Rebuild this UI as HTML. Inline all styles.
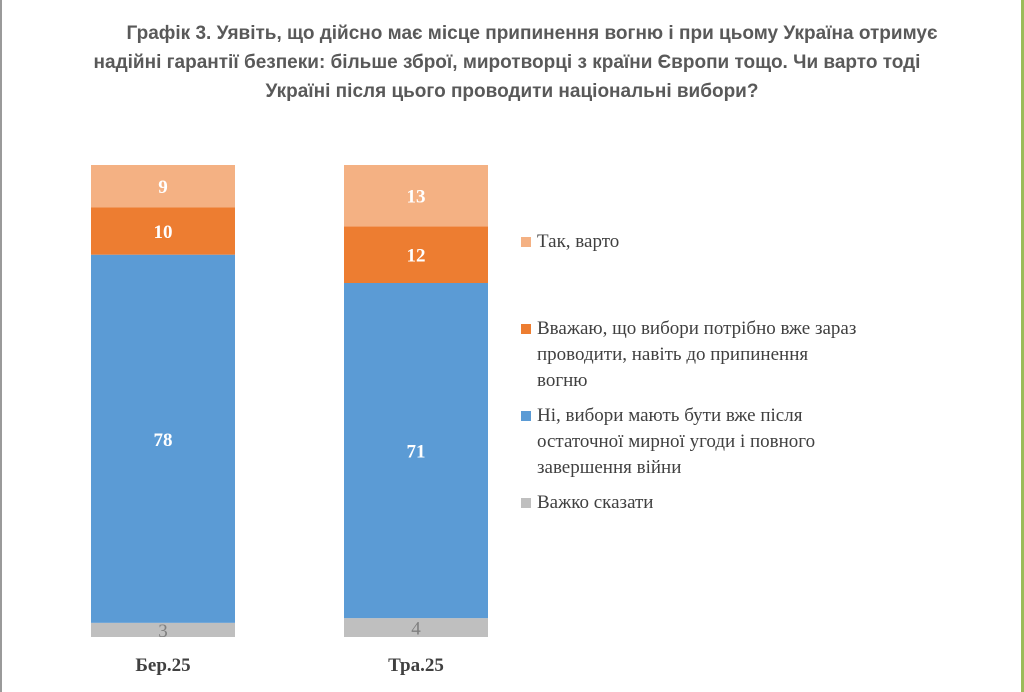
<!DOCTYPE html>
<html><head><meta charset="utf-8"><style>
body{margin:0;width:1024px;height:692px;background:#fff;overflow:hidden;position:relative;font-family:"Liberation Sans",sans-serif}
.t{position:absolute;left:0;width:1024px;text-align:center;font-weight:bold;font-size:19px;color:#595959;line-height:29px}
.leg{position:absolute;left:537px;font-family:"Liberation Serif",serif;font-size:19px;color:#404040;line-height:26px}
.sw{position:absolute;left:-16px;top:8px;width:10px;height:10px}
</style></head><body>
<div style="position:absolute;left:0;top:0;width:2px;height:692px;background:#9a9a9a"></div>
<div style="position:absolute;left:1021px;top:0;width:3px;height:692px;background:#9bbb59"></div>
<div class="t" style="top:19px">
<div style="padding-left:40px">Графік 3. Уявіть, що дійсно має місце припинення вогню і при цьому Україна отримує</div>
<div style="margin-left:-10px">надійні гарантії безпеки: більше зброї, миротворці з країни Європи тощо. Чи варто тоді</div>
<div style="margin-left:0px">Україні після цього проводити національні вибори?</div></div>
<svg id="c" width="1024" height="692" style="position:absolute;left:0;top:0"></svg>
<div class="leg" style="top:229px"><span class="sw" style="background:#f4b183"></span>Так, варто</div>
<div class="leg" style="top:316px"><span class="sw" style="background:#ed7d31"></span>Вважаю, що вибори потрібно вже зараз<br>проводити, навіть до припинення<br>вогню</div>
<div class="leg" style="top:403px"><span class="sw" style="background:#5b9bd5"></span>Ні, вибори мають бути вже після<br>остаточної мирної угоди і повного<br>завершення війни</div>
<div class="leg" style="top:490px"><span class="sw" style="background:#bfbfbf"></span>Важко сказати</div>
<script>
const categories=["Бер.25","Тра.25"];
const hard=[3,4];
const after=[78,71];
const now=[10,12];
const yes=[9,13];
const NS="http://www.w3.org/2000/svg",svg=document.getElementById('c');
const base=637,scale=4.72;
function y(v){return base-v*scale;}
function x(i){return 91+i*253;}
const bw=144;
const series=[[hard,"#bfbfbf","#7f7f7f","hard"],[after,"#5b9bd5","#fff","after"],[now,"#ed7d31","#fff","now"],[yes,"#f4b183","#fff","yes"]];
categories.forEach((c,i)=>{
 let cum=0;
 series.forEach(([arr,col,tc,nm])=>{
  const v=arr[i];
  const r=document.createElementNS(NS,'rect');
  
  
  r.setAttribute('x',x(i));r.setAttribute('y',y(cum+v));r.setAttribute('width',bw);r.setAttribute('height',v*scale);r.setAttribute('fill',col);
  svg.appendChild(r);
  const t=document.createElementNS(NS,'text');
  
  
  t.setAttribute('x',x(i)+bw/2);t.setAttribute('y',y(cum+v/2)+(nm=="hard"?7:7));
  t.setAttribute('text-anchor','middle');t.setAttribute('font-family','Liberation Serif, serif');t.setAttribute('font-size','19');
  t.setAttribute('font-weight',nm=="hard"?'normal':'bold');t.setAttribute('fill',tc);
  t.textContent=v;svg.appendChild(t);
  cum+=v;
 });
 const l=document.createElementNS(NS,'text');
 
 
 l.setAttribute('x',x(i)+bw/2);l.setAttribute('y',671);l.setAttribute('text-anchor','middle');
 l.setAttribute('font-family','Liberation Serif, serif');l.setAttribute('font-size','19');l.setAttribute('font-weight','bold');l.setAttribute('fill','#404040');
 l.textContent=c;svg.appendChild(l);
});
</script>
</body></html>
